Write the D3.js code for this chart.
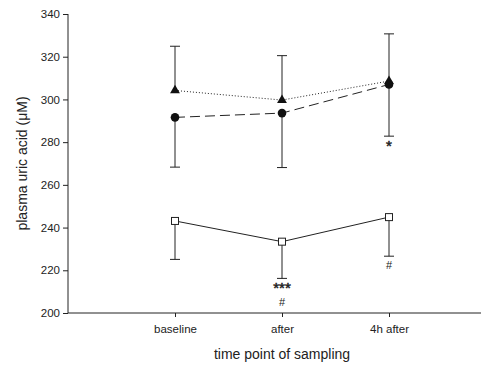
<!DOCTYPE html>
<html><head><meta charset="utf-8">
<script src="https://cdn.jsdelivr.net/npm/d3@7"></script>
<style>body{margin:0;background:#fff;} text{font-family:"Liberation Sans",Arial,sans-serif;fill:#222;}</style>
</head><body><svg id="c" width="483" height="366"></svg>
<script>
const categories = ["baseline", "after", "4h after"];
const yTicks = [200, 220, 240, 260, 280, 300, 320, 340];
// triangles, dotted line, error bars up
const triMean = [304.2, 299.7, 308.6];
const triUpper = [324.9, 320.5, 330.7];
// circles, dashed line, error bars down
const circMean = [291.6, 293.6, 307.0];
const circLower = [268.3, 268.1, 282.8];
// squares, solid line, error bars down
const sqMean = [243.1, 233.4, 244.9];
const sqLower = [225.1, 216.2, 226.6];
const annotations = [
  {cat: 2, value: circLower[2], lines: ["*"]},
  {cat: 1, value: sqLower[1], lines: ["***", "#"]},
  {cat: 2, value: sqLower[2], lines: ["#"]}
];

(function () {
const svg = d3.select("#c");
const mLeft = 68, mTop = 14, mBottom = 313, mRight = 481;
const x = d3.scaleLinear().domain([0, (mRight - mLeft) / 107]).range([mLeft, mRight]);
const y = d3.scaleLinear().domain([200, 340]).range([mBottom, mTop]);
const xi = i => x(i + 1);
const ink = "#222";

const yAxis = d3.axisLeft(y).tickValues(yTicks).tickSize(5).tickPadding(3);
const gy = svg.append("g").attr("transform", `translate(${mLeft},0)`).call(yAxis);
gy.select(".domain").attr("d", `M0,${mTop}V${mBottom}`).attr("stroke", ink);
gy.selectAll("line").attr("stroke", ink);
gy.selectAll("text").style("font-size", "11.5px").attr("fill", "#333");

const xAxis = d3.axisBottom(x).tickValues([1, 2, 3]).tickFormat(d => categories[d - 1]).tickSize(4).tickPadding(8);
const gx = svg.append("g").attr("transform", `translate(0,${mBottom})`).call(xAxis);
gx.select(".domain").attr("d", `M${mLeft},0H${mRight}`).attr("stroke", ink);
gx.selectAll("line").attr("stroke", ink);
gx.selectAll("text").style("font-size", "11.5px").attr("fill", "#333");

svg.append("text").attr("transform", `translate(27,${(mTop + mBottom) / 2}) rotate(-90)`)
  .attr("text-anchor", "middle").style("font-size", "14px").text("plasma uric acid (μM)");
svg.append("text").attr("x", xi(1)).attr("y", 359).attr("text-anchor", "middle")
  .style("font-size", "14px").text("time point of sampling");

const capW = 5;
function errBars(mean, ext) {
  const g = svg.append("g").attr("stroke", ink).attr("stroke-width", 1);
  mean.forEach((m, i) => {
    g.append("line").attr("x1", xi(i)).attr("x2", xi(i)).attr("y1", y(m)).attr("y2", y(ext[i]));
    g.append("line").attr("x1", xi(i) - capW).attr("x2", xi(i) + capW).attr("y1", y(ext[i])).attr("y2", y(ext[i]));
  });
}
errBars(triMean, triUpper);
errBars(circMean, circLower);
errBars(sqMean, sqLower);

const line = d3.line().x((d, i) => xi(i)).y(d => y(d));
svg.append("path").datum(triMean).attr("d", line).attr("fill", "none").attr("stroke", ink).attr("stroke-width", 1).attr("stroke-dasharray", "1,2");
svg.append("path").datum(circMean).attr("d", line).attr("fill", "none").attr("stroke", ink).attr("stroke-width", 1).attr("stroke-dasharray", "10,5");
svg.append("path").datum(sqMean).attr("d", line).attr("fill", "none").attr("stroke", ink).attr("stroke-width", 1);

svg.append("g").selectAll("path").data(triMean).join("path")
  .attr("d", d3.symbol(d3.symbolTriangle, 42)())
  .attr("transform", (d, i) => `translate(${xi(i)},${y(d)})`).attr("fill", "#111");
svg.append("g").selectAll("circle").data(circMean).join("circle")
  .attr("cx", (d, i) => xi(i)).attr("cy", d => y(d)).attr("r", 4.3).attr("fill", "#111");
svg.append("g").selectAll("rect").data(sqMean).join("rect")
  .attr("x", (d, i) => xi(i) - 3.5).attr("y", d => y(d) - 3.5).attr("width", 7).attr("height", 7)
  .attr("fill", "#fff").attr("stroke", ink).attr("stroke-width", 1);

annotations.forEach(a => {
  let base = y(a.value);
  a.lines.forEach((t, k) => {
    const isStar = t.indexOf("*") >= 0;
    base += isStar ? 14.5 : (k === 0 ? 12.5 : 13);
    svg.append("text").attr("x", xi(a.cat)).attr("y", base)
      .attr("text-anchor", "middle").style("font-size", isStar ? "15px" : "11px")
      .attr("stroke", isStar ? "#222" : "none").attr("stroke-width", isStar ? 0.5 : 0)
      .text(t);
  });
});
})();
</script></body></html>
